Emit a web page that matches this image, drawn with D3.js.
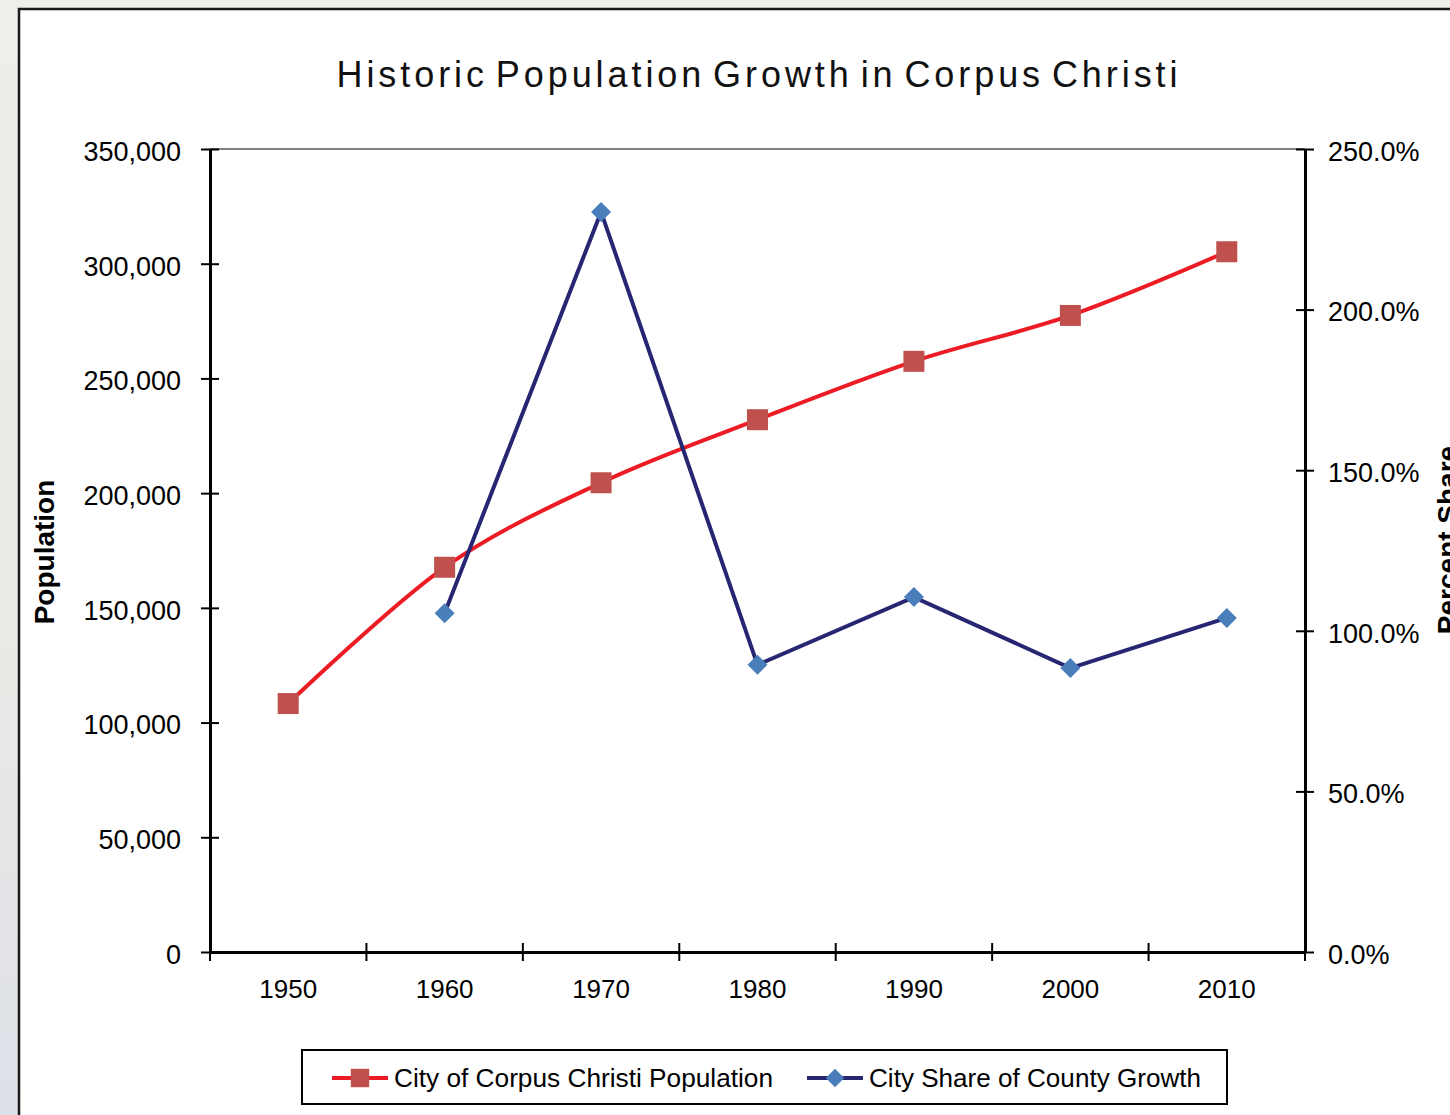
<!DOCTYPE html>
<html>
<head>
<meta charset="utf-8">
<script src="https://cdn.jsdelivr.net/npm/d3@7"></script>
<style>
  body { margin: 0; background: #efeee9; }
  svg { display: block; font-family: "Liberation Sans", Arial, sans-serif; }
</style>
</head>
<body>
<div id="chart"></div>
<script>
// data
const years = ["1950", "1960", "1970", "1980", "1990", "2000", "2010"];
const population = [108287, 167690, 204525, 231999, 257453, 277454, 305215];
const countyShare = [null, 105.5, 230.4, 89.4, 110.5, 88.4, 104.0];
const popTicks = [0, 50000, 100000, 150000, 200000, 250000, 300000, 350000];
const shareTicks = [0, 50, 100, 150, 200, 250];
const seriesNames = ["City of Corpus Christi Population", "City Share of County Growth"];

const width = 1450;
const height = 1115;
const plot = { left: 210, right: 1305, top: 149, bottom: 952 };

const redLine = "#ed1c24";
const redMark = "#c0504d";
const blueLine = "#262673";
const blueMark = "#4a7ebb";

const svg = d3.select("#chart").append("svg")
  .attr("width", width)
  .attr("height", height);

// page background + white panel
const defs = svg.append("defs");
const grad = defs.append("linearGradient").attr("id", "bg").attr("x1", 0).attr("y1", 0).attr("x2", 0).attr("y2", 1);
grad.append("stop").attr("offset", "0%").attr("stop-color", "#efeee9");
grad.append("stop").attr("offset", "60%").attr("stop-color", "#e9e9e6");
grad.append("stop").attr("offset", "100%").attr("stop-color", "#dde0e8");
svg.append("rect").attr("width", width).attr("height", height).attr("fill", "url(#bg)");
svg.append("rect")
  .attr("x", 19).attr("y", 9)
  .attr("width", width).attr("height", height)
  .attr("fill", "#fff")
  .attr("stroke", "#1a1a1a")
  .attr("stroke-width", 2.5);

// title
svg.append("text")
  .attr("x", 757).attr("y", 87)
  .attr("text-anchor", "middle")
  .attr("font-size", 36)
  .attr("fill", "#111")
  .attr("word-spacing", -6)
  .attr("textLength", 841)
  .attr("lengthAdjust", "spacing")
  .text("Historic Population Growth in Corpus Christi");

// scales
const xScale = d3.scaleBand().domain(years).range([plot.left, plot.right]).padding(0);
const yLeft = d3.scaleLinear().domain([0, 350000]).range([plot.bottom, plot.top]);
const yRight = d3.scaleLinear().domain([0, 250]).range([plot.bottom, plot.top]);
const xc = (d) => xScale(d) + xScale.bandwidth() / 2;

// top border of plot area
svg.append("line")
  .attr("x1", plot.left).attr("x2", plot.right)
  .attr("y1", plot.top).attr("y2", plot.top)
  .attr("stroke", "#808080").attr("stroke-width", 2);

// left axis
const leftAxis = svg.append("g")
  .attr("transform", `translate(${plot.left},0)`)
  .call(d3.axisLeft(yLeft).tickValues(popTicks).tickFormat(d3.format(",")).tickSize(9).tickSizeOuter(0).tickPadding(20));
leftAxis.selectAll(".tick line").attr("x1", 9).attr("stroke-width", 2);

// right axis
const rightAxis = svg.append("g")
  .attr("transform", `translate(${plot.right},0)`)
  .call(d3.axisRight(yRight).tickValues(shareTicks).tickFormat((d) => d.toFixed(1) + "%").tickSize(9).tickSizeOuter(0).tickPadding(14));
rightAxis.selectAll(".tick line").attr("x1", -9).attr("stroke-width", 2);

// bottom axis: labels at centers, ticks at band edges
const bottomAxis = svg.append("g")
  .attr("transform", `translate(0,${plot.bottom})`)
  .call(d3.axisBottom(xScale).tickSize(0).tickPadding(28));
bottomAxis.selectAll(".tick text").attr("font-size", 26).attr("fill", "#000");
bottomAxis.selectAll(".edge")
  .data(years.map((d) => xScale(d)).concat([plot.right]))
  .enter().append("line")
  .attr("class", "edge")
  .attr("x1", (d) => d).attr("x2", (d) => d)
  .attr("y1", -9).attr("y2", 9)
  .attr("stroke", "#000").attr("stroke-width", 2);

[leftAxis, rightAxis].forEach((g) => {
  g.selectAll(".tick text").attr("font-size", 27).attr("fill", "#000").attr("dy", "0.42em");
});
[leftAxis, rightAxis, bottomAxis].forEach((g) => {
  g.select(".domain").attr("stroke", "#000").attr("stroke-width", 3);
  g.attr("font-family", null);
});

// axis titles
svg.append("text")
  .attr("transform", "translate(54,552) rotate(-90)")
  .attr("text-anchor", "middle")
  .attr("font-size", 28).attr("font-weight", "bold")
  .text("Population");
svg.append("text")
  .attr("transform", "translate(1457,540) rotate(-90)")
  .attr("text-anchor", "middle")
  .attr("font-size", 28).attr("font-weight", "bold")
  .text("Percent Share");

// population series (smoothed)
const popData = years.map((y, i) => ({ year: y, value: population[i] }));
svg.append("path")
  .datum(popData)
  .attr("fill", "none")
  .attr("stroke", redLine)
  .attr("stroke-width", 4)
  .attr("d", d3.line().x((d) => xc(d.year)).y((d) => yLeft(d.value)).curve(d3.curveCardinal.tension(0)));
svg.selectAll(".pop-mark")
  .data(popData)
  .enter().append("rect")
  .attr("class", "pop-mark")
  .attr("x", (d) => xc(d.year) - 10.5)
  .attr("y", (d) => yLeft(d.value) - 10.5)
  .attr("width", 21).attr("height", 21)
  .attr("fill", redMark);

// county share series
const shareData = years.map((y, i) => ({ year: y, value: countyShare[i] })).filter((d) => d.value != null);
svg.append("path")
  .datum(shareData)
  .attr("fill", "none")
  .attr("stroke", blueLine)
  .attr("stroke-width", 4)
  .attr("d", d3.line().x((d) => xc(d.year)).y((d) => yRight(d.value)));
const diamond = d3.symbol().type(d3.symbolSquare).size(200);
svg.selectAll(".share-mark")
  .data(shareData)
  .enter().append("path")
  .attr("class", "share-mark")
  .attr("transform", (d) => `translate(${xc(d.year)},${yRight(d.value)}) rotate(45)`)
  .attr("d", diamond)
  .attr("fill", blueMark);

// legend
const legend = svg.append("g").attr("transform", "translate(302,1050)");
legend.append("rect")
  .attr("width", 925).attr("height", 54)
  .attr("fill", "#fff").attr("stroke", "#000").attr("stroke-width", 2);
const items = [
  { name: seriesNames[0], line: redLine, fill: redMark, shape: "square", x: 30, w: 379 },
  { name: seriesNames[1], line: blueLine, fill: blueMark, shape: "diamond", x: 505, w: 332 }
];
const item = legend.selectAll(".item").data(items).enter().append("g")
  .attr("class", "item")
  .attr("transform", (d) => `translate(${d.x},28)`);
item.append("line")
  .attr("x1", 0).attr("x2", 56)
  .attr("stroke", (d) => d.line).attr("stroke-width", 4);
item.append("path")
  .attr("transform", (d) => `translate(28,0) rotate(${d.shape === "diamond" ? 45 : 0})`)
  .attr("d", (d) => d3.symbol().type(d3.symbolSquare).size(d.shape === "diamond" ? 170 : 340)())
  .attr("fill", (d) => d.fill);
item.append("text")
  .attr("x", 62).attr("y", 9)
  .attr("font-size", 26)
  .attr("textLength", (d) => d.w)
  .attr("lengthAdjust", "spacingAndGlyphs")
  .text((d) => d.name);
</script>
</body>
</html>
